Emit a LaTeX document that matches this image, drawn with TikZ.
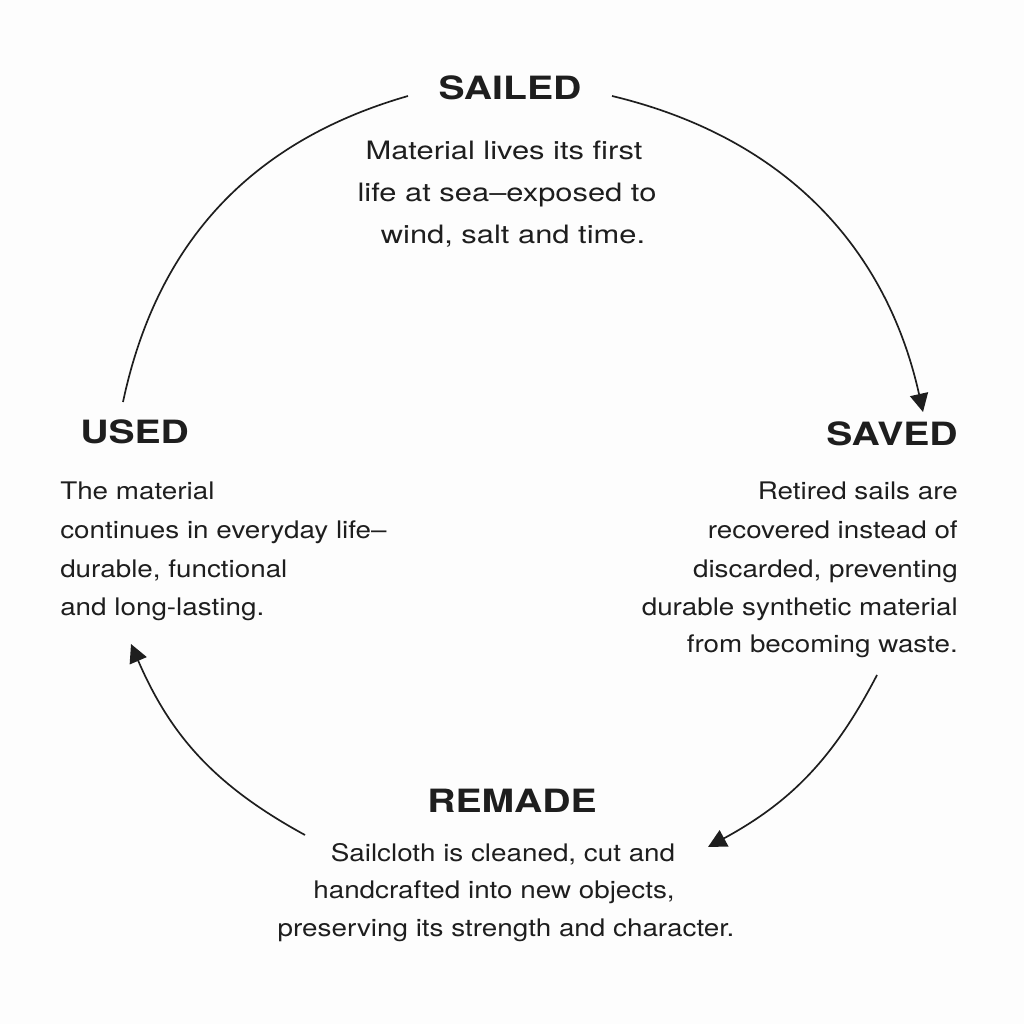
\documentclass[tikz,border=0pt]{standalone}
\usepackage{fontspec}
\setmainfont[FakeStretch=1.22]{TeX Gyre Heros}
\newfontfamily\lowerfont[FakeStretch=1.15]{TeX Gyre Heros}
\usetikzlibrary{arrows.meta}
\definecolor{ink}{HTML}{1E1E1E}
\definecolor{bg}{HTML}{FDFDFD}
\begin{document}
\begin{tikzpicture}[x=0.025cm,y=-0.025cm,
  head/.style={font=\fontsize{22.8}{26}\selectfont\bfseries, text=ink, inner sep=0},
  bodytop/.style={font=\fontsize{18}{20}\selectfont, text=ink, inner sep=0},
  body/.style={font=\lowerfont\fontsize{17.2}{20}\selectfont, text=ink, inner sep=0},
  cyc/.style={draw=ink, line width=1.2pt},
  tip/.style={-{Triangle[length=13pt,width=13pt]}}]
\fill[bg] (0,0) rectangle (1024,1024);
\useasboundingbox (0,0) rectangle (1024,1024);

% headings
\node[head, anchor=base] (sailed) at (510,100) {SAILED};
\node[head, anchor=base east] (saved) at (958,445) {SAVED};
\node[head, anchor=base west] (used) at (80,443) {USED};
\node[head, anchor=base] (remade) at (512,812) {REMADE};

% SAILED text
\node[bodytop, anchor=base] (t1) at (504,160) {Material lives its first};
\node[bodytop, anchor=base] (t2) at (507,202) {life at sea–exposed to};
\node[bodytop, anchor=base] (t3) at (513,243) {wind, salt and time.};

% SAVED text
\node[body, anchor=base east] (r1) at (958,499) {Retired sails are};
\node[body, anchor=base east] (r2) at (958,538) {recovered instead of};
\node[body, anchor=base east] (r3) at (958,577) {discarded, preventing};
\node[body, anchor=base east] (r4) at (958,615) {durable synthetic material};
\node[body, anchor=base east] (r5) at (958,652) {from becoming waste.};

% USED text
\node[body, anchor=base west] (l1) at (60,499) {The material};
\node[body, anchor=base west] (l2) at (60,538) {continues in everyday life–};
\node[body, anchor=base west] (l3) at (60,577) {durable, functional};
\node[body, anchor=base west] (l4) at (60,615) {and long-lasting.};

% REMADE text
\node[body, anchor=base] (b1t) at (503,861) {Sailcloth is cleaned, cut and};
\node[body, anchor=base] (b2t) at (494,898) {handcrafted into new objects,};
\node[body, anchor=base] (b3t) at (506,936) {preserving its strength and character.};

% cycle arcs
\coordinate (a1) at (123,402);
\coordinate (a2) at (408,96);
\coordinate (b1) at (612,96);
\coordinate (b2) at (923,412);
\coordinate (c1) at (877,675);
\coordinate (c2) at (708,847);
\coordinate (d1) at (305,835);
\coordinate (d2) at (131,644);
\draw[cyc] (a1) to[bend left=31] (a2);
\draw[cyc,tip] (b1) to[bend left=32] (b2);
\draw[cyc,tip] (c1) to[bend left=17] (c2);
\draw[cyc,tip] (d1) to[bend left=19] (d2);
\end{tikzpicture}
\end{document}
